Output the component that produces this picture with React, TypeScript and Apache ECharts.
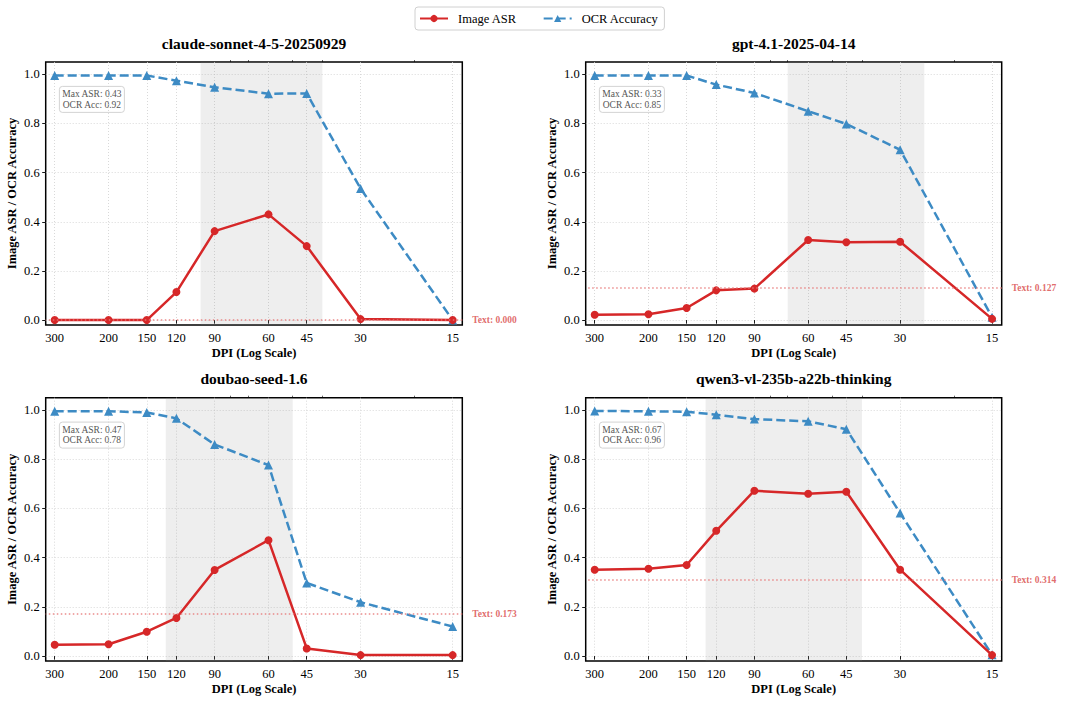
import React, { useEffect, useRef } from "react";
import * as echarts from "echarts";

const DPI = [300, 200, 150, 120, 90, 60, 45, 30, 15];
const X_MINOR = [20, 40, 50, 70, 80];
const Y_TICKS = [0, 0.2, 0.4, 0.6, 0.8, 1.0];

const MODELS = [
  "claude-sonnet-4-5-20250929",
  "gpt-4.1-2025-04-14",
  "doubao-seed-1.6",
  "qwen3-vl-235b-a22b-thinking",
];

const ASR_CLAUDE = [0, 0, 0, 0.114, 0.362, 0.43, 0.301, 0.004, 0.0];
const OCR_CLAUDE = [0.995, 0.995, 0.995, 0.974, 0.947, 0.921, 0.922, 0.535, 0.0];
const ASR_GPT = [0.022, 0.024, 0.049, 0.121, 0.128, 0.326, 0.317, 0.319, 0.005];
const OCR_GPT = [0.995, 0.995, 0.995, 0.958, 0.924, 0.85, 0.798, 0.693, 0.012];
const ASR_DOUBAO = [0.046, 0.048, 0.099, 0.155, 0.35, 0.471, 0.031, 0.004, 0.004];
const OCR_DOUBAO = [0.995, 0.995, 0.99, 0.966, 0.86, 0.776, 0.297, 0.219, 0.12];
const ASR_QWEN = [0.351, 0.355, 0.37, 0.509, 0.672, 0.66, 0.668, 0.351, 0.004];
const OCR_QWEN = [0.996, 0.995, 0.993, 0.981, 0.963, 0.954, 0.922, 0.581, 0.005];

const ASR = [ASR_CLAUDE, ASR_GPT, ASR_DOUBAO, ASR_QWEN];
const OCR = [OCR_CLAUDE, OCR_GPT, OCR_DOUBAO, OCR_QWEN];
const TEXT_BASELINE = [0.0, 0.127, 0.173, 0.314];
const SHADE = [
  [100, 40],
  [70, 25],
  [130, 50],
  [130, 40],
];

const RED = "#d62728";
const BLUE = "#3d8bc4";
const FONT = "'Liberation Serif', 'DejaVu Serif', serif";

const GRIDS = [
  { left: 45.7, top: 62, width: 416.6, height: 263 },
  { left: 585.7, top: 62, width: 416, height: 263 },
  { left: 45.7, top: 397.7, width: 416.6, height: 263.3 },
  { left: 585.7, top: 397.7, width: 416, height: 263.3 },
];

export default function App() {
  const ref = useRef<HTMLDivElement>(null);
  useEffect(() => {
    if (!ref.current) return;
    const chart = echarts.init(ref.current, null, { renderer: "svg" });
    const xAxes: any[] = [];
    const yAxes: any[] = [];
    const series: any[] = [];
    const titles: any[] = [];
    const graphics: any[] = [];

    GRIDS.forEach((g, i) => {
      xAxes.push({
        type: "log",
        logBase: 10,
        gridIndex: i,
        inverse: true,
        min: 13.95,
        max: 321,
        name: "DPI (Log Scale)",
        nameLocation: "middle",
        nameGap: 21,
        nameTextStyle: { fontFamily: FONT, fontSize: 12.5, fontWeight: "bold", color: "#000" },
        axisLine: { show: false },
        axisTick: { show: true, length: 3.5, lineStyle: { color: "#000", width: 0.9 }, customValues: DPI },
        axisLabel: { customValues: DPI, margin: 6, fontFamily: FONT, fontSize: 12.5, color: "#000" },
        splitLine: { show: true, lineStyle: { color: "#cfcfcf", width: 0.8, type: [1, 2] } },
        minorTick: { show: false },
      });
      xAxes.push({
        type: "log",
        logBase: 10,
        gridIndex: i,
        inverse: true,
        min: 13.95,
        max: 321,
        axisLine: { show: false },
        axisTick: { show: true, length: 2, lineStyle: { color: "#000", width: 0.6 }, customValues: X_MINOR },
        axisLabel: { show: false },
        splitLine: { show: false },
      });
      yAxes.push({
        type: "value",
        gridIndex: i,
        min: -0.02,
        max: 1.05,
        name: "Image ASR / OCR Accuracy",
        nameLocation: "middle",
        nameRotate: 90,
        nameGap: 27,
        nameTextStyle: { fontFamily: FONT, fontSize: 12.5, fontWeight: "bold", color: "#000" },
        axisLine: { show: false },
        axisTick: { show: true, length: 3.5, lineStyle: { color: "#000", width: 0.9 }, customValues: Y_TICKS },
        axisLabel: {
          customValues: Y_TICKS,
          margin: 6,
          fontFamily: FONT,
          fontSize: 12.5,
          color: "#000",
          formatter: (v: number) => v.toFixed(1),
        },
        splitLine: { show: true, lineStyle: { color: "#cfcfcf", width: 0.8, type: [1, 2] } },
      });

      series.push({
        type: "line",
        name: "_bg" + i,
        xAxisIndex: i * 2,
        yAxisIndex: i,
        data: [],
        z: 1,
        silent: true,
        markArea: {
          silent: true,
          itemStyle: { color: "rgba(140,140,140,0.15)" },
          data: [[{ xAxis: SHADE[i][0] }, { xAxis: SHADE[i][1] }]],
        },
        markLine: {
          silent: true,
          symbol: "none",
          lineStyle: { color: "rgba(232,120,120,0.85)", width: 1.5, type: [1.5, 2.5] },
          label: {
            show: true,
            position: "start",
            distance: 10,
            formatter: "Text: " + TEXT_BASELINE[i].toFixed(3),
            color: "rgba(222,100,100,0.95)",
            fontFamily: FONT,
            fontSize: 9.5,
            fontWeight: "bold",
          },
          data: [{ yAxis: TEXT_BASELINE[i] }],
        },
      });
      series.push({
        type: "line",
        name: "OCR Accuracy",
        xAxisIndex: i * 2,
        yAxisIndex: i,
        data: DPI.map((d, j) => [d, OCR[i][j]]),
        symbol: "triangle",
        symbolSize: 9,
        z: 3,
        lineStyle: { color: BLUE, width: 2.5, type: [9, 4] },
        itemStyle: { color: BLUE },
      });
      series.push({
        type: "line",
        name: "Image ASR",
        xAxisIndex: i * 2,
        yAxisIndex: i,
        data: DPI.map((d, j) => [d, ASR[i][j]]),
        symbol: "circle",
        symbolSize: 8,
        z: 4,
        lineStyle: { color: RED, width: 2.5 },
        itemStyle: { color: RED },
      });

      titles.push({
        text: MODELS[i],
        left: g.left + g.width / 2,
        top: g.top - 27,
        textAlign: "center",
        padding: 0,
        textStyle: { fontFamily: FONT, fontSize: 15.5, fontWeight: "bold", color: "#000" },
      });

      const asr = ASR[i];
      let mi = 0;
      asr.forEach((v, j) => {
        if (v > asr[mi]) mi = j;
      });
      graphics.push({
        type: "group",
        left: g.left + 13.3,
        top: g.top + 24,
        z: 10,
        children: [
          {
            type: "rect",
            shape: { x: 0, y: 0, width: 65, height: 26, r: 3 },
            style: { fill: "rgba(255,255,255,0.85)", stroke: "#c8c8c8", lineWidth: 0.8 },
          },
          {
            type: "text",
            x: 32.5,
            y: 13,
            style: {
              text: "Max ASR: " + asr[mi].toFixed(2) + "\nOCR Acc: " + OCR[i][mi].toFixed(2),
              fill: "#555",
              font: "9.5px " + FONT,
              align: "center",
              verticalAlign: "middle",
              lineHeight: 10.5,
            },
          },
        ],
      });
    });

    chart.setOption({
      animation: false,
      textStyle: { fontFamily: FONT },
      title: titles,
      legend: {
        data: ["Image ASR", "OCR Accuracy"],
        left: 415,
        top: 7,
        padding: [5, 6, 5, 4],
        itemWidth: 28,
        itemHeight: 9,
        itemGap: 26,
        borderColor: "#d0d0d0",
        borderWidth: 1,
        borderRadius: 3,
        textStyle: { fontFamily: FONT, fontSize: 12.5, color: "#000", padding: [0, 0, 0, 5] },
      },
      grid: GRIDS.map((g) => ({
        left: g.left,
        top: g.top,
        width: g.width,
        height: g.height,
        show: true,
        borderColor: "#000",
        borderWidth: 1.5,
        backgroundColor: "transparent",
        containLabel: false,
      })),
      xAxis: xAxes,
      yAxis: yAxes,
      series,
      graphic: graphics,
    });
    return () => chart.dispose();
  }, []);
  return (
    <div
      ref={ref}
      style={{ position: "fixed", left: 0, top: 0, width: 1080, height: 705, background: "#fff" }}
    />
  );
}
